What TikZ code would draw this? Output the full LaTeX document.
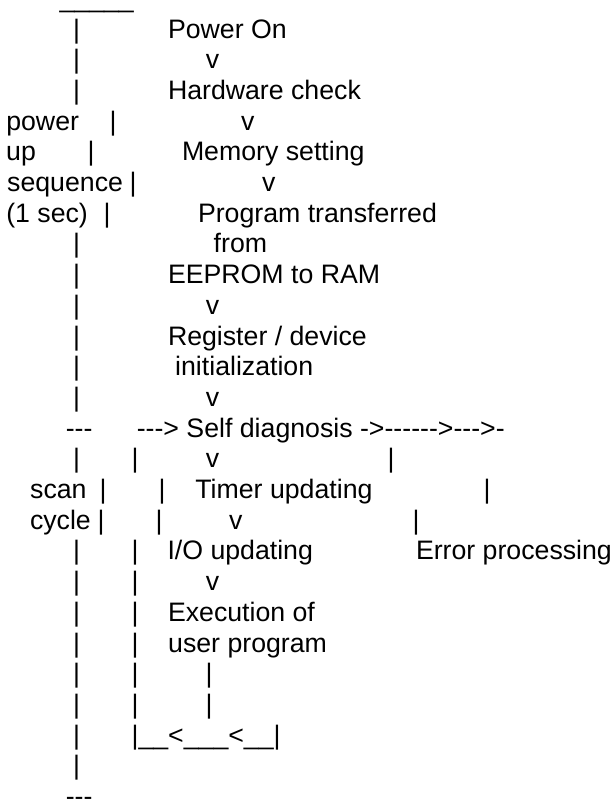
\documentclass[tikz,border=0pt]{standalone}
\usepackage{fontspec}
\newfontfamily\asciifont{Liberation Sans}[Ligatures=TeXOff]
% baseline of text row #1
\newcommand\rowy[1]{{-(30.7*#1-23.4)}}
\tikzset{
  ascii/.style={anchor=base west, inner sep=0pt, outer sep=0pt,
    font=\asciifont\fontsize{26.7}{30.7}\selectfont},
}
\begin{document}
\begin{tikzpicture}[x=1pt,y=1pt]
\useasboundingbox (0,0) rectangle (614,-800);
% power up sequence
\node[ascii] (bar1)   at (59.6,\rowy{1}) {\_\_\_\_\_};
\node[ascii] (p2)     at (73,\rowy{2}) {|};
\node[ascii] (pwron)  at (168,\rowy{2}) {Power On};
\node[ascii] (p3)     at (73,\rowy{3}) {|};
\node[ascii] (v3)     at (205.8,\rowy{3}) {v};
\node[ascii] (p4)     at (73,\rowy{4}) {|};
\node[ascii] (hw)     at (168,\rowy{4}) {Hardware check};
\node[ascii] (lpower) at (6.3,\rowy{5}) {power};
\node[ascii] (p5)     at (109.6,\rowy{5}) {|};
\node[ascii] (v5)     at (241,\rowy{5}) {v};
\node[ascii] (lup)    at (6.2,\rowy{6}) {up};
\node[ascii] (p6)     at (87.6,\rowy{6}) {|};
\node[ascii] (mem)    at (182,\rowy{6}) {Memory setting};
\node[ascii] (lseq)   at (7.2,\rowy{7}) {sequence};
\node[ascii] (p7)     at (129.6,\rowy{7}) {|};
\node[ascii] (v7)     at (262,\rowy{7}) {v};
\node[ascii] (lsec)   at (6.3,\rowy{8}) {(1 sec)};
\node[ascii] (p8)     at (103.6,\rowy{8}) {|};
\node[ascii] (prog)   at (198,\rowy{8}) {Program transferred};
\node[ascii] (p9)     at (73,\rowy{9}) {|};
\node[ascii] (from)   at (213.7,\rowy{9}) {from};
\node[ascii] (p10)    at (73,\rowy{10}) {|};
\node[ascii] (eep)    at (168,\rowy{10}) {EEPROM to RAM};
\node[ascii] (p11)    at (73,\rowy{11}) {|};
\node[ascii] (v11)    at (205.8,\rowy{11}) {v};
\node[ascii] (p12)    at (73,\rowy{12}) {|};
\node[ascii] (reg)    at (168,\rowy{12}) {Register / device};
\node[ascii] (p13)    at (73,\rowy{13}) {|};
\node[ascii] (init)   at (175.2,\rowy{13}) {initialization};
\node[ascii] (p14)    at (73,\rowy{14}) {|};
\node[ascii] (v14)    at (205.8,\rowy{14}) {v};
% scan cycle
\node[ascii] (d15)    at (65.8,\rowy{15}) {---};
\node[ascii] (self)   at (136.8,\rowy{15}) {---> Self diagnosis ->------>--->-};
\node[ascii] (p16)    at (73,\rowy{16}) {|};
\node[ascii] (q16)    at (131.6,\rowy{16}) {|};
\node[ascii] (v16)    at (205.8,\rowy{16}) {v};
\node[ascii] (e16)    at (387.6,\rowy{16}) {|};
\node[ascii] (lscan)  at (30.2,\rowy{17}) {scan};
\node[ascii] (p17)    at (99.6,\rowy{17}) {|};
\node[ascii] (q17)    at (158.6,\rowy{17}) {|};
\node[ascii] (timer)  at (195.4,\rowy{17}) {Timer updating};
\node[ascii] (e17)    at (483.6,\rowy{17}) {|};
\node[ascii] (lcyc)   at (30,\rowy{18}) {cycle};
\node[ascii] (p18)    at (97.6,\rowy{18}) {|};
\node[ascii] (q18)    at (155.6,\rowy{18}) {|};
\node[ascii] (v18)    at (229,\rowy{18}) {v};
\node[ascii] (e18)    at (412.6,\rowy{18}) {|};
\node[ascii] (p19)    at (73,\rowy{19}) {|};
\node[ascii] (q19)    at (131.6,\rowy{19}) {|};
\node[ascii] (io)     at (167.5,\rowy{19}) {I/O updating};
\node[ascii] (err)    at (416,\rowy{19}) {Error processing};
\node[ascii] (p20)    at (73,\rowy{20}) {|};
\node[ascii] (q20)    at (131.6,\rowy{20}) {|};
\node[ascii] (v20)    at (205.8,\rowy{20}) {v};
\node[ascii] (p21)    at (73,\rowy{21}) {|};
\node[ascii] (q21)    at (131.6,\rowy{21}) {|};
\node[ascii] (exec)   at (168,\rowy{21}) {Execution of};
\node[ascii] (p22)    at (73,\rowy{22}) {|};
\node[ascii] (q22)    at (131.6,\rowy{22}) {|};
\node[ascii] (user)   at (168.2,\rowy{22}) {user program};
\node[ascii] (p23)    at (73,\rowy{23}) {|};
\node[ascii] (q23)    at (131.6,\rowy{23}) {|};
\node[ascii] (r23)    at (205.6,\rowy{23}) {|};
\node[ascii] (p24)    at (73,\rowy{24}) {|};
\node[ascii] (q24)    at (131.6,\rowy{24}) {|};
\node[ascii] (r24)    at (205.6,\rowy{24}) {|};
\node[ascii] (p25)    at (73,\rowy{25}) {|};
\node[ascii] (loop)   at (131.6,\rowy{25}) {|\_\_<\_\_\_<\_\_|};
\node[ascii] (p26)    at (73,\rowy{26}) {|};
\node[ascii] (d27)    at (65.8,\rowy{27}) {---};
\end{tikzpicture}
\end{document}
